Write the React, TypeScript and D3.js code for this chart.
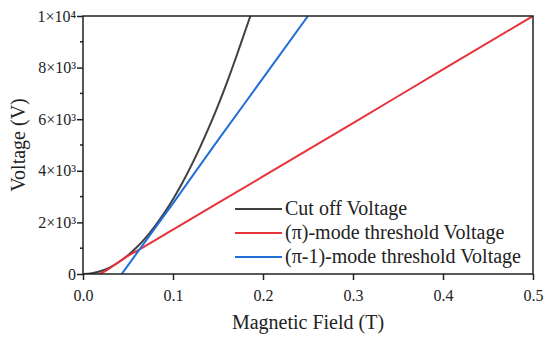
import { useEffect, useRef } from "react";
import * as d3 from "d3";

// magnetic field (T) vs voltage (V)
const cutoffB = [0, 0.01, 0.02, 0.03, 0.04, 0.05, 0.06, 0.07, 0.08, 0.09, 0.1, 0.11, 0.12, 0.13, 0.14, 0.15, 0.16, 0.17, 0.18, 0.186];
const cutoffV = [0, 30, 116, 260, 465, 725, 1045, 1420, 1860, 2350, 2900, 3510, 4180, 4910, 5690, 6530, 7430, 8390, 9400, 10000];

const piB = [0.018, 0.022, 0.026, 0.03, 0.035, 0.04, 0.05, 0.06, 0.07, 0.1, 0.2, 0.3, 0.4, 0.5];
const piV = [0, 60, 140, 230, 350, 470, 700, 900, 1100, 1720, 3780, 5850, 7930, 10000];

const pi1B = [0.043, 0.1, 0.15, 0.2, 0.25];
const pi1V = [0, 2740, 5190, 7590, 10000];

const xTicks = [0, 0.1, 0.2, 0.3, 0.4, 0.5];
const yTicks = [0, 2000, 4000, 6000, 8000, 10000];
const yTickLabels = ["0", "2×10³", "4×10³", "6×10³", "8×10³", "1×10⁴"];
const yMinor = [1000, 3000, 5000, 7000, 9000];

const seriesNames = ["Cut off Voltage", "(π)-mode threshold Voltage", "(π-1)-mode threshold Voltage"];
const seriesColors = ["#404040", "#e8333b", "#1f6fd6"];

export default function App() {
  const svgRef = useRef<SVGSVGElement | null>(null);

  useEffect(() => {
    const svg = d3.select(svgRef.current);
    svg.selectAll("*").remove();
    const width = 550;
    const height = 343;
    const margin = { top: 16, right: 17, bottom: 69, left: 83 };
    const font = "'Liberation Serif', 'Times New Roman', serif";
    const axisColor = "#222";

    const x = d3.scaleLinear().domain([0, 0.5]).range([margin.left, width - margin.right]);
    const y = d3.scaleLinear().domain([0, 10000]).range([height - margin.bottom, margin.top]);

    svg.append("clipPath").attr("id", "plot-clip")
      .append("rect")
      .attr("x", margin.left).attr("y", margin.top)
      .attr("width", width - margin.left - margin.right)
      .attr("height", height - margin.top - margin.bottom);

    const line = d3.line<[number, number]>().x((d) => x(d[0])).y((d) => y(d[1])).curve(d3.curveMonotoneX);

    const series: [number, number][][] = [
      cutoffB.map((b, i) => [b, cutoffV[i]]),
      piB.map((b, i) => [b, piV[i]]),
      pi1B.map((b, i) => [b, pi1V[i]]),
    ];

    const plot = svg.append("g").attr("clip-path", "url(#plot-clip)");
    series.forEach((s, i) => {
      plot.append("path")
        .attr("d", line(s))
        .attr("fill", "none")
        .attr("stroke", seriesColors[i])
        .attr("stroke-width", 2);
    });

    // frame
    svg.append("rect")
      .attr("x", margin.left).attr("y", margin.top)
      .attr("width", width - margin.left - margin.right)
      .attr("height", height - margin.top - margin.bottom)
      .attr("fill", "none")
      .attr("stroke", axisColor)
      .attr("stroke-width", 1.5);

    // x axis
    const xAxis = svg.append("g")
      .attr("transform", `translate(0,${height - margin.bottom})`)
      .call(d3.axisBottom(x).tickValues(xTicks).tickFormat(d3.format(".1f")).tickSize(6).tickPadding(10));
    xAxis.select(".domain").remove();
    xAxis.selectAll("line").attr("stroke", axisColor).attr("stroke-width", 1.5);
    xAxis.selectAll("text").attr("font-family", font).attr("font-size", 16).attr("fill", "#222");

    // y axis
    const yAxis = svg.append("g")
      .attr("transform", `translate(${margin.left},0)`)
      .call(d3.axisLeft(y).tickValues(yTicks).tickFormat((_, i) => yTickLabels[i]).tickSize(6).tickPadding(1));
    yAxis.select(".domain").remove();
    yAxis.selectAll("line").attr("stroke", axisColor).attr("stroke-width", 1.5);
    yAxis.selectAll("text").attr("font-family", font).attr("font-size", 16).attr("fill", "#222");

    svg.append("g")
      .selectAll("line")
      .data(yMinor)
      .enter()
      .append("line")
      .attr("x1", margin.left - 3).attr("x2", margin.left)
      .attr("y1", (d) => y(d)).attr("y2", (d) => y(d))
      .attr("stroke", axisColor).attr("stroke-width", 1.5);

    // axis titles
    svg.append("text")
      .attr("x", (margin.left + width - margin.right) / 2)
      .attr("y", 329)
      .attr("text-anchor", "middle")
      .attr("font-family", font).attr("font-size", 20).attr("fill", "#222")
      .text("Magnetic Field (T)");

    svg.append("text")
      .attr("transform", `translate(25,${(margin.top + height - margin.bottom) / 2}) rotate(-90)`)
      .attr("text-anchor", "middle")
      .attr("font-family", font).attr("font-size", 20).attr("fill", "#222")
      .text("Voltage (V)");

    // legend
    const legend = svg.append("g").attr("transform", "translate(235,209)");
    seriesNames.forEach((name, i) => {
      const row = legend.append("g").attr("transform", `translate(0,${i * 24})`);
      row.append("line")
        .attr("x1", 0).attr("x2", 47)
        .attr("stroke", seriesColors[i]).attr("stroke-width", 2);
      row.append("text")
        .attr("x", 50).attr("y", 6)
        .attr("font-family", font).attr("font-size", 20).attr("fill", "#222")
        .text(name);
    });
  }, []);

  return (
    <svg ref={svgRef} width={550} height={343} style={{ display: "block", position: "absolute", left: 0, top: 0, background: "white" }} />
  );
}
